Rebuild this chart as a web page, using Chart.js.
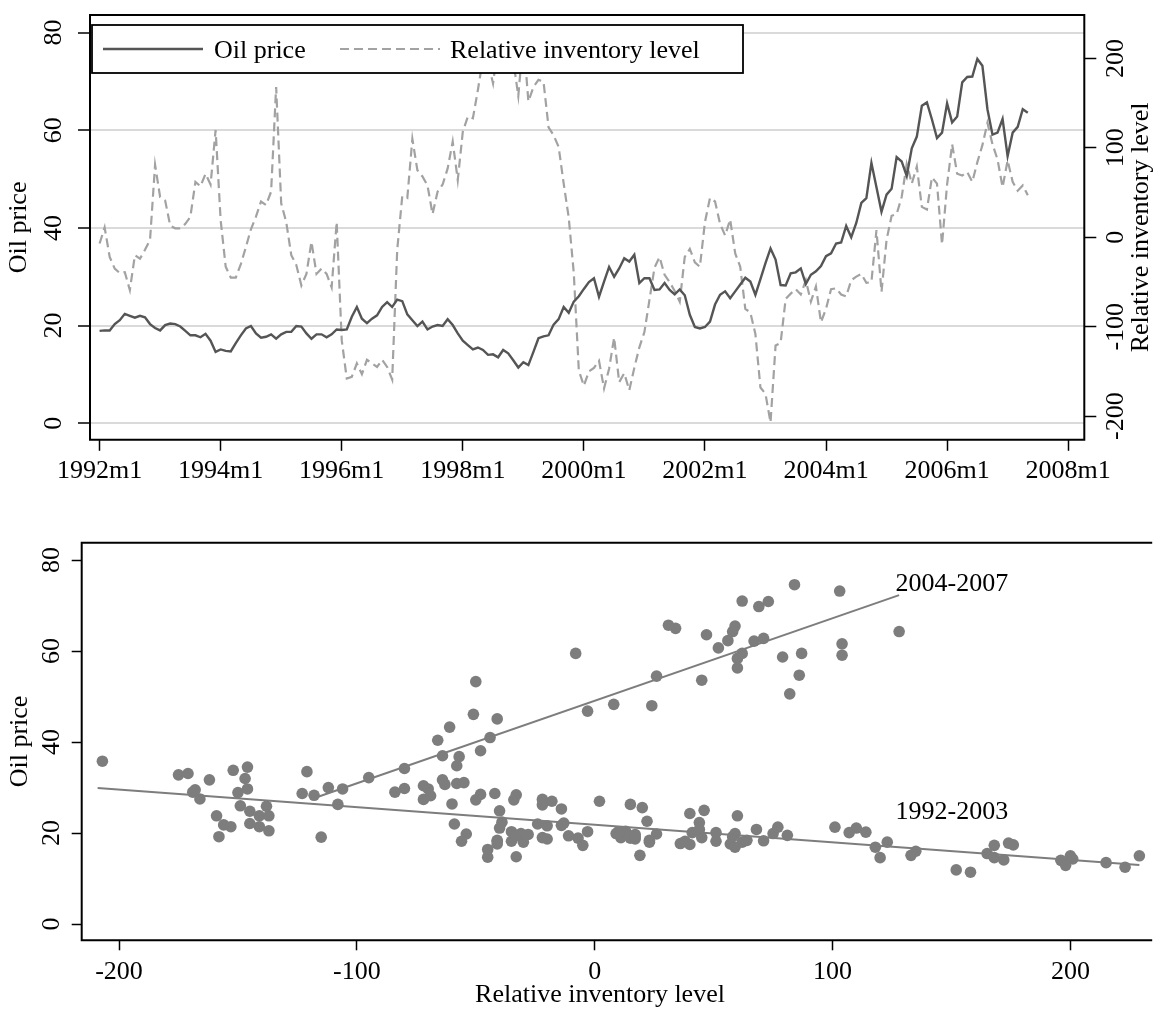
<!DOCTYPE html>
<html>
<head>
<meta charset="utf-8">
<title>Oil price and relative inventory level</title>
<script src="https://cdn.jsdelivr.net/npm/chart.js@4.4.0/dist/chart.umd.min.js"></script>
<style>
  html, body { margin: 0; padding: 0; background: #fff; }
  #wrap { position: relative; width: 1158px; height: 1010px; overflow: hidden; }
  canvas { position: absolute; left: 0; }
  #top { top: 0; }
  #bottom { top: 505px; }
</style>
</head>
<body>
<div id="wrap">
  <canvas id="top" width="1158" height="505" style="width:1158px;height:505px"></canvas>
  <canvas id="bottom" width="1158" height="505" style="width:1158px;height:505px"></canvas>
</div>
<script>
// monthly series, 1992m1 .. 2007m5
const firstYear = 1992;

const oilPrice = [
  18.9, 19.0, 19.0, 20.3, 21.1, 22.4, 22.0, 21.6, 22.0, 21.7, 20.3, 19.5, // 1992
  19.0, 20.1, 20.4, 20.3, 19.8, 18.9, 18.0, 18.0, 17.6, 18.3, 16.9, 14.6, // 1993
  15.1, 14.8, 14.7, 16.4, 18.0, 19.4, 19.9, 18.4, 17.5, 17.7, 18.2, 17.3, // 1994
  18.2, 18.7, 18.7, 19.9, 19.8, 18.4, 17.3, 18.2, 18.2, 17.6, 18.2, 19.2, // 1995
  19.1, 19.2, 21.8, 23.8, 21.4, 20.5, 21.4, 22.1, 23.8, 24.8, 23.8, 25.3, // 1996
  25.0, 22.3, 21.1, 19.9, 20.8, 19.2, 19.8, 20.1, 19.9, 21.3, 20.1, 18.4, // 1997
  16.9, 16.0, 15.1, 15.5, 15.0, 14.0, 14.1, 13.5, 15.0, 14.3, 12.9, 11.4, // 1998
  12.5, 11.9, 14.6, 17.4, 17.8, 18.0, 20.2, 21.3, 23.8, 22.6, 24.9, 26.0, // 1999
  27.5, 28.9, 29.7, 25.9, 29.0, 32.0, 30.0, 31.7, 33.8, 33.1, 34.5, 28.7, // 2000
  29.7, 29.7, 27.3, 27.4, 28.7, 27.3, 26.4, 27.4, 26.2, 22.2, 19.7, 19.4, // 2001
  19.7, 20.8, 24.3, 26.3, 27.0, 25.6, 27.0, 28.4, 29.8, 29.0, 26.3, 29.5, // 2002
  32.8, 35.8, 33.5, 28.3, 28.2, 30.7, 30.9, 31.7, 28.5, 30.4, 31.1, 32.2, // 2003
  34.2, 34.8, 36.8, 37.0, 40.4, 38.1, 41.0, 45.1, 46.1, 53.3, 48.3, 43.3, // 2004
  46.8, 48.0, 54.5, 53.6, 50.6, 56.3, 58.7, 65.0, 65.7, 62.2, 58.4, 59.5, // 2005
  65.5, 61.6, 62.8, 69.8, 70.9, 71.0, 74.6, 73.2, 64.3, 59.1, 59.5, 62.3, // 2006
  54.7, 59.5, 60.7, 64.3, 63.6                                            // 2007
];

const inventory = [
  -7, 11, -22, -35, -40, -39, -59, -20, -24, -14, -3, 81,                 // 1992
  45, 41, 13, 10, 10, 15, 23, 62, 57, 71, 59, 120,                        // 1993
  19, -33, -45, -45, -30, -11, 9, 23, 40, 36, 51, 168,                    // 1994
  38, 17, -20, -31, -54, -41, -5, -41, -35, -41, -56, 17,                 // 1995
  -115, -158, -156, -141, -153, -137, -141, -145, -137, -145, -159, -14,  // 1996
  46, 44, 110, 75, 68, 58, 26, 51, 59, 77, 107, 64,                       // 1997
  118, 135, 133, 165, 200, 196, 172, 215, 229, 201, 198, 158,             // 1998
  223, 152, 168, 176, 174, 123, 114, 101, 60, 22, -40, -149,              // 1999
  -166, -150, -146, -138, -169, -147, -112, -162, -152, -171, -146, -123, // 2000
  -106, -70, -34, -22, -42, -50, -60, -72, -22, -13, -28, -33,            // 2001
  17, 44, 40, 15, 2, 20, -18, -33, -80, -84, -108, -168,                  // 2002
  -175, -207, -121, -118, -69, -63, -58, -64, -48, -72, -55, -95,         // 2003
  -80, -58, -57, -64, -66, -48, -44, -41, -51, -50, 8, -61,               // 2004
  -3, 24, 26, 45, 82, 60, 79, 34, 31, 67, 60, -8,                         // 2005
  59, 104, 71, 69, 73, 62, 84, 103, 128, 104, 87, 56,                     // 2006
  86, 62, 52, 58, 47                                                      // 2007
];

const yearTicks = [1992, 1994, 1996, 1998, 2000, 2002, 2004, 2006, 2008];
const priceTicks = [0, 20, 40, 60, 80];
const inventoryTicks = [-200, -100, 0, 100, 200];

// fitted lines (ends of each lfit)
const fit9203 = [{ x: -209, y: 29.9 }, { x: 229, y: 13.0 }];
const fit0407 = [{ x: -119, y: 27.5 }, { x: 128, y: 72.3 }];

const serif = "'Liberation Serif', 'Times New Roman', serif";
Chart.defaults.font.family = serif;
Chart.defaults.font.size = 26;
Chart.defaults.color = '#000';

const setTicks = list => scale => { scale.ticks = list.map(v => ({ value: v })); };

// black box around the plot region
const frame = {
  id: 'frame',
  afterDatasetsDraw(chart, args, opts) {
    const { ctx, chartArea: a } = chart;
    ctx.save();
    ctx.strokeStyle = '#000';
    ctx.lineWidth = 2;
    ctx.beginPath();
    if (opts.openRight) {
      ctx.moveTo(a.right, a.top);
      ctx.lineTo(a.left, a.top);
      ctx.lineTo(a.left, a.bottom);
      ctx.lineTo(a.right, a.bottom);
    } else {
      ctx.rect(a.left, a.top, a.right - a.left, a.bottom - a.top);
    }
    ctx.stroke();
    ctx.restore();
  }
};

// vertical-axis labels and titles are written sideways, plus free text
const sideText = {
  id: 'sideText',
  afterDraw(chart, args, opts) {
    const { ctx, chartArea: a } = chart;
    ctx.save();
    ctx.fillStyle = '#000';
    ctx.font = '26px ' + serif;
    ctx.textAlign = 'center';
    ctx.textBaseline = 'middle';
    const upward = (text, x, y) => {
      ctx.save();
      ctx.translate(x, y);
      ctx.rotate(-Math.PI / 2);
      ctx.fillText(text, 0, 0);
      ctx.restore();
    };
    (opts.axes || []).forEach(ax => {
      const scale = chart.scales[ax.id];
      scale.ticks.forEach(t => upward(String(t.value), ax.tickX, scale.getPixelForValue(t.value)));
      upward(ax.title, ax.titleX, (a.top + a.bottom) / 2);
    });
    if (opts.xTitle) {
      ctx.fillText(opts.xTitle.text, opts.xTitle.x, opts.xTitle.y);
    }
    ctx.textAlign = 'left';
    (opts.notes || []).forEach(n => {
      ctx.fillText(n.text, chart.scales.x.getPixelForValue(n.x), chart.scales.y.getPixelForValue(n.y));
    });
    ctx.restore();
  }
};

// boxed legend in the top-left corner of the plot
const boxLegend = {
  id: 'boxLegend',
  afterDraw(chart) {
    const { ctx } = chart;
    const box = { x: 92, y: 25, w: 651, h: 48 };
    ctx.save();
    ctx.fillStyle = '#fff';
    ctx.fillRect(box.x, box.y, box.w, box.h);
    ctx.strokeStyle = '#000';
    ctx.lineWidth = 1.8;
    ctx.strokeRect(box.x, box.y, box.w, box.h);
    const keys = [
      { ds: chart.data.datasets[0], x0: 103, x1: 203, tx: 214 },
      { ds: chart.data.datasets[1], x0: 340, x1: 440, tx: 450 }
    ];
    keys.forEach(k => {
      ctx.strokeStyle = k.ds.borderColor;
      ctx.lineWidth = k.ds.borderWidth;
      ctx.setLineDash(k.ds.borderDash || []);
      ctx.beginPath();
      ctx.moveTo(k.x0, 49);
      ctx.lineTo(k.x1, 49);
      ctx.stroke();
      ctx.setLineDash([]);
      ctx.fillStyle = '#000';
      ctx.font = '26px ' + serif;
      ctx.textBaseline = 'alphabetic';
      ctx.fillText(k.ds.label, k.tx, 58);
    });
    ctx.restore();
  }
};

const months = oilPrice.map((_, i) => i);

new Chart(document.getElementById('top'), {
  type: 'line',
  data: {
    datasets: [
      {
        label: 'Oil price',
        data: months.map(i => ({ x: i, y: oilPrice[i] })),
        yAxisID: 'y',
        borderColor: '#555555',
        borderWidth: 2.4,
        pointRadius: 0,
        tension: 0
      },
      {
        label: 'Relative inventory level',
        data: months.map(i => ({ x: i, y: inventory[i] })),
        yAxisID: 'y1',
        borderColor: '#a2a2a2',
        borderWidth: 2.2,
        borderDash: [9, 5],
        pointRadius: 0,
        tension: 0
      }
    ]
  },
  options: {
    responsive: false,
    animation: false,
    events: [],
    layout: { padding: { left: 78, right: 61.7, top: 15, bottom: 13 } },
    plugins: {
      legend: { display: false },
      tooltip: { enabled: false },
      frame: {},
      sideText: {
        axes: [
          { id: 'y', tickX: 54, title: 'Oil price', titleX: 19 },
          { id: 'y1', tickX: 1116, title: 'Relative inventory level', titleX: 1141 }
        ]
      }
    },
    scales: {
      x: {
        type: 'linear',
        min: -1.9,
        max: 195.2,
        afterBuildTicks: setTicks(yearTicks.map(y => (y - firstYear) * 12)),
        ticks: { callback: v => (firstYear + v / 12) + 'm1', maxRotation: 0, padding: 5 },
        grid: { drawOnChartArea: false, tickLength: 11, tickColor: '#000', tickWidth: 1.5 },
        border: { display: false }
      },
      y: {
        position: 'left',
        min: -3.4,
        max: 83.6,
        afterBuildTicks: setTicks(priceTicks),
        ticks: { display: false },
        grid: { color: '#dadada', lineWidth: 2, tickColor: '#000', tickLength: 12, tickWidth: 1.5 },
        border: { display: false }
      },
      y1: {
        position: 'right',
        min: -226.4,
        max: 248.5,
        afterBuildTicks: setTicks(inventoryTicks),
        ticks: { display: false },
        grid: { drawOnChartArea: false, tickColor: '#000', tickLength: 12, tickWidth: 1.5 },
        border: { display: false }
      }
    }
  },
  plugins: [frame, boxLegend, sideText]
});

const scatterPoints = months.map(i => ({ x: inventory[i], y: oilPrice[i] }));

new Chart(document.getElementById('bottom'), {
  type: 'scatter',
  data: {
    datasets: [
      { data: fit9203, showLine: true, borderColor: '#7d7d7d', borderWidth: 2, pointRadius: 0 },
      { data: fit0407, showLine: true, borderColor: '#7d7d7d', borderWidth: 2, pointRadius: 0 },
      { data: scatterPoints, pointRadius: 5.8, pointBackgroundColor: '#7d7d7d', pointBorderWidth: 0 }
    ]
  },
  options: {
    responsive: false,
    animation: false,
    events: [],
    layout: { padding: { left: 71.7, right: 0, top: 37.7, bottom: 16.5 } },
    plugins: {
      legend: { display: false },
      tooltip: { enabled: false },
      frame: { openRight: true },
      sideText: {
        axes: [{ id: 'y', tickX: 52, title: 'Oil price', titleX: 20 }],
        xTitle: { text: 'Relative inventory level', x: 600, y: 490 },
        notes: [
          { text: '2004-2007', x: 126.5, y: 74.7 },
          { text: '1992-2003', x: 126.5, y: 24.6 }
        ]
      }
    },
    scales: {
      x: {
        type: 'linear',
        min: -215.7,
        max: 234.4,
        afterBuildTicks: setTicks(inventoryTicks),
        ticks: { maxRotation: 0, padding: 6 },
        grid: { drawOnChartArea: false, tickLength: 10, tickColor: '#000', tickWidth: 1.5 },
        border: { display: false }
      },
      y: {
        min: -3.57,
        max: 83.83,
        afterBuildTicks: setTicks(priceTicks),
        ticks: { display: false },
        grid: { drawOnChartArea: false, tickColor: '#000', tickLength: 10, tickWidth: 1.5 },
        border: { display: false }
      }
    }
  },
  plugins: [frame, sideText]
});
</script>
</body>
</html>
